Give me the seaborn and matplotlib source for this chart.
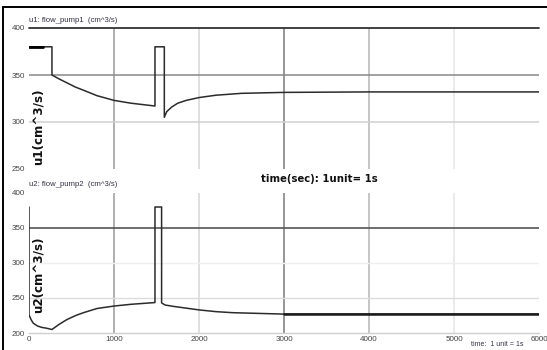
import matplotlib
matplotlib.use("Agg")
import matplotlib.pyplot as plt
import seaborn as sns
import pandas as pd
from matplotlib.lines import Line2D

sns.set_theme(style="white")
plt.rcParams["font.family"] = ["Liberation Sans", "DejaVu Sans"]

# u1: flow_pump1 (time in s, flow in cm^3/s)
u1_time = [0, 165, 270, 270, 350, 450, 550, 650, 800, 1000, 1200, 1482, 1482,
           1592, 1592, 1620, 1680, 1750, 1850, 2000, 2200, 2500, 3000, 4000,
           5000, 6000]
u1_flow = [380, 380, 380, 350, 346, 341.5, 337, 333.5, 328, 323, 320, 317, 380,
           380, 305, 311, 316, 320, 323, 326, 328.5, 330.5, 331.5, 332,
           332, 332]

# u2: flow_pump2 (time in s, flow in cm^3/s)
u2_time = [0, 0, 25, 50, 100, 150, 200, 270, 350, 443, 550, 640, 800, 1000,
           1200, 1482, 1482, 1560, 1560, 1600, 1700, 1850, 2000, 2200, 2400,
           2700, 3000, 4000, 5000, 6000]
u2_flow = [380, 226, 219, 214, 210, 208, 207, 205, 212, 219, 225, 229, 235,
           238.5, 241, 243.5, 380, 380, 243, 240, 238, 235.5, 233, 230.5, 229,
           228, 227, 227, 227, 227]

x_ticks = [0, 1000, 2000, 3000, 4000, 5000, 6000]
u1_ticks = [250, 300, 350, 400]
u2_ticks = [200, 250, 300, 350, 400]

df1 = pd.DataFrame({"t": u1_time, "u": u1_flow})
df2 = pd.DataFrame({"t": u2_time, "u": u2_flow})

W, H = 547, 350
fig = plt.figure(figsize=(W / 100, H / 100), dpi=100)
fig.patch.set_facecolor("white")

def fx(px):
    return px / W

def fy(py):
    return 1 - py / H

left, right = fx(29), fx(539)
ax1 = fig.add_axes([left, fy(169), right - left, fy(28) - fy(169)])
ax2 = fig.add_axes([left, fy(333), right - left, fy(193) - fy(333)])

vgrid_colors = ["#9a9a9a", "#d6d6d6", "#7a7a7a", "#b5b5b5", "#e6e6e6"]

for ax, ylim, yt in [(ax1, (250, 400), u1_ticks), (ax2, (200, 400), u2_ticks)]:
    ax.set_xlim(0, 6000)
    ax.set_ylim(*ylim)
    ax.set_yticks(yt)
    ax.set_xticks(x_ticks)
    for s in ax.spines.values():
        s.set_visible(False)
    ax.tick_params(axis="both", length=0, labelsize=5.8, labelcolor="#444",
                   pad=3)
    ax.set_xlabel("")
    ax.set_ylabel("")
    for xv, c in zip(x_ticks[1:-1], vgrid_colors):
        ax.axvline(xv, color=c, lw=1.1, zorder=0)

ax1.set_xticklabels([])
ax1.axhline(400, color="#333333", lw=1.3, zorder=1, clip_on=False)
ax1.axhline(350, color="#888888", lw=1.1, zorder=1)
ax1.axhline(300, color="#d0d0d0", lw=1.1, zorder=1)

ax2.axhline(350, color="#555555", lw=1.2, zorder=1)
ax2.axhline(300, color="#efefef", lw=1.0, zorder=1)
ax2.axhline(250, color="#dcdcdc", lw=1.0, zorder=1)
ax2.spines["bottom"].set_visible(True)
ax2.spines["bottom"].set_color("#cfcfcf")
ax2.spines["bottom"].set_linewidth(1.0)
ax2.tick_params(axis="x", pad=2)

sns.lineplot(data=df1, x="t", y="u", ax=ax1, sort=False, estimator=None,
             color="#2b2b2b", lw=1.1, zorder=3)
sns.lineplot(data=df1[df1.t <= 165].iloc[:2], x="t", y="u", ax=ax1, sort=False,
             estimator=None, color="black", lw=2.0, zorder=4)
sns.lineplot(data=df2, x="t", y="u", ax=ax2, sort=False, estimator=None,
             color="#2b2b2b", lw=1.1, zorder=3)
sns.lineplot(data=df2[df2.t >= 3000], x="t", y="u", ax=ax2, sort=False,
             estimator=None, color="#1a1a1a", lw=1.8, zorder=4)
for ax in (ax1, ax2):
    ax.set_xlabel("")
    ax.set_ylabel("")

# panel captions
fig.text(fx(29), fy(20), "u1: flow_pump1  (cm^3/s)", fontsize=5.6,
         color="#333344", va="center", ha="left")
fig.text(fx(29), fy(184), "u2: flow_pump2  (cm^3/s)", fontsize=5.6,
         color="#333344", va="center", ha="left")

# axis titles inside the plots
fig.text(fx(38), fy(127), "u1(cm^3/s)", rotation=90, fontsize=8.6,
         fontweight="bold", family=["DejaVu Sans"], ha="center", va="center",
         color="#111111")
fig.text(fx(38), fy(275), "u2(cm^3/s)", rotation=90, fontsize=8.6,
         fontweight="bold", family=["DejaVu Sans"], ha="center", va="center",
         color="#111111")
fig.text(fx(319), fy(179), "time(sec): 1unit= 1s", fontsize=7.3,
         fontweight="bold", family=["DejaVu Sans"], ha="center", va="center",
         color="#111111")
fig.text(fx(497), fy(344), "time:  1 unit = 1s", fontsize=5.0,
         color="#333344", ha="center", va="center")

# outer frame
fig.add_artist(Line2D([fx(3), 1], [fy(7), fy(7)], color="black", lw=1.4))
fig.add_artist(Line2D([fx(3), fx(3)], [0, fy(7)], color="black", lw=1.4))

fig.savefig("out.png", dpi=100, facecolor="white")
